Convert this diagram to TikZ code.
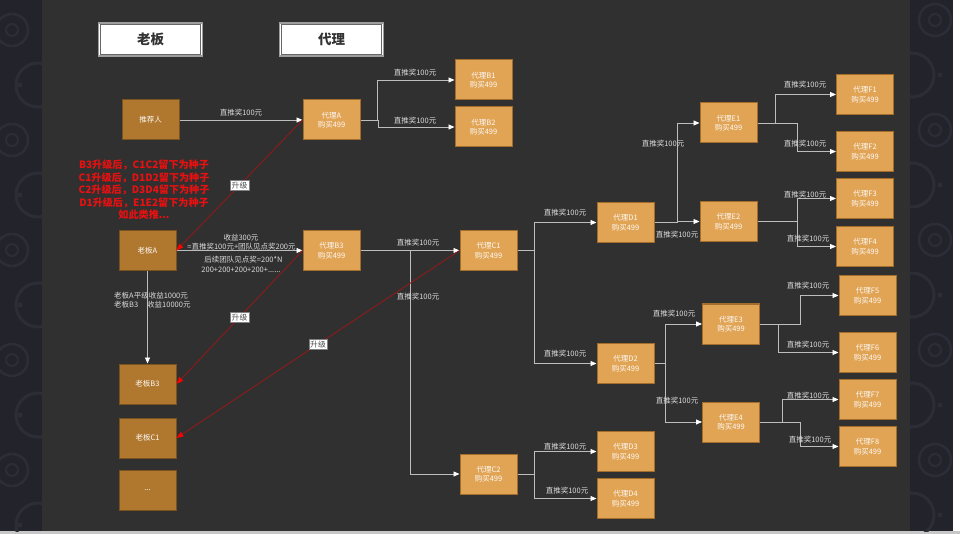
\documentclass[tikz,border=0pt]{standalone}
\usepackage{fontspec}
\setmainfont{Noto Sans CJK SC}
\usetikzlibrary{arrows.meta}
\definecolor{bg}{HTML}{303030}
\definecolor{strip}{HTML}{22232B}
\definecolor{pat}{HTML}{2C2D37}
\definecolor{agent}{HTML}{E1A455}
\definecolor{agentb}{HTML}{A26C2A}
\definecolor{boss}{HTML}{B0772E}
\definecolor{bossb}{HTML}{7A521F}
\definecolor{ln}{HTML}{BDBDBD}
\definecolor{txt}{HTML}{DADADA}
\definecolor{dred}{HTML}{8E1A1A}
\definecolor{rtxt}{HTML}{E81010}
\tikzset{
  agentbox/.style={draw=agentb, line width=1pt, fill=agent, minimum width=57pt, minimum height=40pt, inner sep=0pt, align=center, font=\fontsize{7.5}{9.5}\selectfont, text=white!95!agent},
  bossbox/.style={agentbox, fill=boss, draw=bossb},
  conn/.style={draw=ln, line width=0.8pt, -{Triangle[length=6pt,width=5pt,color=white]}},
  upg/.style={draw=dred, line width=0.9pt, -{Triangle[length=7pt,width=5pt,color=red]}},
  lbl/.style={font=\fontsize{7.5}{9}\selectfont, text=txt, inner sep=0pt},
  tag/.style={fill=white, draw=gray, line width=0.4pt, font=\fontsize{7.8}{9}\selectfont, text=black!70, inner sep=1.5pt},
  hdr/.style={fill=white, draw=black!38, line width=1.3pt, minimum width=104pt, minimum height=33pt, inner sep=0pt, font=\bfseries\fontsize{13.5}{16}\selectfont, text=black!80},
  hdrin/.style={draw=black!60, line width=0.7pt}
}
\begin{document}
\begin{tikzpicture}[x=1pt,y=-1pt]
\useasboundingbox (0,0) rectangle (960,534);
% background
\fill[white] (0,0) rectangle (960,534);
\fill[black!22] (0,531) rectangle (960,534);
\fill[strip] (0,0) rectangle (42,531);
\fill[strip] (910,0) rectangle (953,531);
\begin{scope}
\clip (0,0) rectangle (42,531);
\foreach \cy in {30,140,250,360,470} {
  \draw[pat, line width=2.5pt] (12,\cy) circle (16pt);
  \draw[pat, line width=2pt] (12,\cy) circle (6pt);
}
\foreach \cy in {85,195,305,415,525} {
  \draw[pat, line width=3pt] (38,\cy) circle (22pt);
  \fill[pat] (20,\cy) circle (2.5pt);
}
\end{scope}
\begin{scope}
\clip (910,0) rectangle (953,531);
\foreach \cy in {20,130,240,350,460} {
  \draw[pat, line width=2.5pt] (935,\cy) circle (16pt);
  \draw[pat, line width=2pt] (935,\cy) circle (6pt);
}
\foreach \cy in {75,185,295,405,515} {
  \draw[pat, line width=3pt] (912,\cy) circle (22pt);
  \fill[pat] (940,\cy) circle (2.5pt);
}
\end{scope}
\fill[bg] (42,0) rectangle (910,531);

% headers
\node[hdr] (h1) at (150.5,39.5) {老板};
\node[hdr] (h2) at (331.5,39.5) {代理};
\draw[hdrin] ([shift={(2.5,2.5)}]h1.north west) rectangle ([shift={(-2.5,-2.5)}]h1.south east);
\draw[hdrin] ([shift={(2.5,2.5)}]h2.north west) rectangle ([shift={(-2.5,-2.5)}]h2.south east);

% nodes
\node[bossbox] (tj) at (150.5,120) {推荐人};
\node[agentbox] (A) at (331.5,120) {代理A\\购买499};
\node[agentbox] (B1) at (483.5,80) {代理B1\\购买499};
\node[agentbox] (B2) at (483.5,127) {代理B2\\购买499};
\node[bossbox] (LA) at (147.5,250.5) {老板A};
\node[agentbox] (B3) at (331.5,250.5) {代理B3\\购买499};
\node[agentbox] (C1) at (488.5,250.5) {代理C1\\购买499};
\node[bossbox] (LB3) at (147.5,384) {老板B3};
\node[bossbox] (LC1) at (147.5,438) {老板C1};
\node[bossbox] (LD) at (147.5,490) {...};
\node[agentbox] (C2) at (488.5,474) {代理C2\\购买499};
\node[agentbox] (D1) at (625.5,222.5) {代理D1\\购买499};
\node[agentbox] (D2) at (625.5,363.5) {代理D2\\购买499};
\node[agentbox] (D3) at (625.5,451.5) {代理D3\\购买499};
\node[agentbox] (D4) at (625.5,498.5) {代理D4\\购买499};
\node[agentbox] (E1) at (728.5,123) {代理E1\\购买499};
\node[agentbox] (E2) at (728.5,221.5) {代理E2\\购买499};
\node[agentbox] (E3) at (731,324) {代理E3\\购买499};
\node[agentbox] (E4) at (731,422) {代理E4\\购买499};
\node[agentbox] (F1) at (865,94.5) {代理F1\\购买499};
\node[agentbox] (F2) at (865,151.5) {代理F2\\购买499};
\node[agentbox] (F3) at (865,198.5) {代理F3\\购买499};
\node[agentbox] (F4) at (865,246.5) {代理F4\\购买499};
\node[agentbox] (F5) at (867.5,295.5) {代理F5\\购买499};
\node[agentbox] (F6) at (867.5,352.5) {代理F6\\购买499};
\node[agentbox] (F7) at (867.5,399.5) {代理F7\\购买499};
\node[agentbox] (F8) at (867.5,446.5) {代理F8\\购买499};

% connectors
\draw[conn] (tj.east) -- (A.west);
\draw[conn] (A.east) -- ++(17,0) |- (B1.west);
\draw[conn] (A.east) -- ++(18,0) |- (B2.west);
\draw[conn] (LA.east) -- (B3.west);
\draw[conn] (LA.south) -- (LB3.north);
\draw[conn] (B3.east) -- (C1.west);
\draw[conn] (B3.east) -- ++(50,0) |- (C2.west);
\draw[conn] (C1.east) -- ++(17,0) |- (D1.west);
\draw[conn] (C1.east) -- ++(17,0) |- (D2.west);
\draw[conn] (C2.east) -- ++(17,0) |- (D3.west);
\draw[conn] (C2.east) -- ++(17,0) |- (D4.west);
\draw[conn] (D1.east) -- ++(23,0) |- (E1.west);
\draw[conn] (D1.east) -- ++(23,0) |- (E2.west);
\draw[conn] (E1.east) -- ++(18,0) |- (F1.west);
\draw[conn] (E1.east) -- ++(40,0) |- (F2.west);
\draw[conn] (E2.east) -- ++(40,0) |- (F3.west);
\draw[conn] (E2.east) -- ++(40,0) |- (F4.west);
\draw[conn] (D2.east) -- ++(11,0) |- (E3.west);
\draw[conn] (D2.east) -- ++(11,0) |- (E4.west);
\draw[conn] (E3.east) -- ++(40,0) |- (F5.west);
\draw[conn] (E3.east) -- ++(18,0) |- (F6.west);
\draw[conn] (E4.east) -- ++(22,0) |- (F7.west);
\draw[conn] (E4.east) -- ++(40,0) |- (F8.west);

% labels
\node[lbl] (l0) at (241,113) {直推奖100元};
\node[lbl] (l1) at (415,73) {直推奖100元};
\node[lbl] (l2) at (415,121) {直推奖100元};
\node[lbl] (l3) at (418,243) {直推奖100元};
\node[lbl] (l4) at (418,297) {直推奖100元};
\node[lbl] (l5) at (565,213) {直推奖100元};
\node[lbl] (l6) at (565,354) {直推奖100元};
\node[lbl] (l7) at (565,447) {直推奖100元};
\node[lbl] (l8) at (567,491) {直推奖100元};
\node[lbl] (l9) at (663,144) {直推奖100元};
\node[lbl] (l10) at (677,235) {直推奖100元};
\node[lbl] (l11) at (805,85) {直推奖100元};
\node[lbl] (l12) at (805,144) {直推奖100元};
\node[lbl] (l13) at (805,195) {直推奖100元};
\node[lbl] (l14) at (808,239) {直推奖100元};
\node[lbl] (l15) at (674,314) {直推奖100元};
\node[lbl] (l16) at (677,401) {直推奖100元};
\node[lbl] (l17) at (808,286) {直推奖100元};
\node[lbl] (l18) at (808,345) {直推奖100元};
\node[lbl] (l19) at (808,396) {直推奖100元};
\node[lbl] (l20) at (810,440) {直推奖100元};
\node[lbl] (s1) at (241,237.5) {收益300元};
\node[lbl] (s2) at (241.5,246.5) {=直推奖100元+团队见点奖200元};
\node[lbl] (s3) at (243.5,260) {后续团队见点奖=200*N};
\node[lbl] (s4) at (241,269.5) {200+200+200+200+......};
\node[lbl, anchor=west, align=left, font=\fontsize{7.5}{9.3}\selectfont] (s5) at (114,300.5) {老板A平级收益1000元\\\makebox[33pt][l]{老板B3}收益10000元};

% red note
\node[font=\bfseries\fontsize{10.1}{12.5}\selectfont, text=rtxt, align=center, inner sep=0pt] (note) at (144,190) {B3升级后，C1C2留下为种子\\C1升级后，D1D2留下为种子\\C2升级后，D3D4留下为种子\\D1升级后，E1E2留下为种子\\如此类推...};

% upgrade arrows
\draw[upg] (A.west) -- node[tag] (t1) {升级} (LA.east);
\draw[upg] (B3.west) -- node[tag] (t2) {升级} (LB3.east);
\draw[upg] (C1.west) -- node[tag] (t3) {升级} (LC1.east);
\end{tikzpicture}
\end{document}
